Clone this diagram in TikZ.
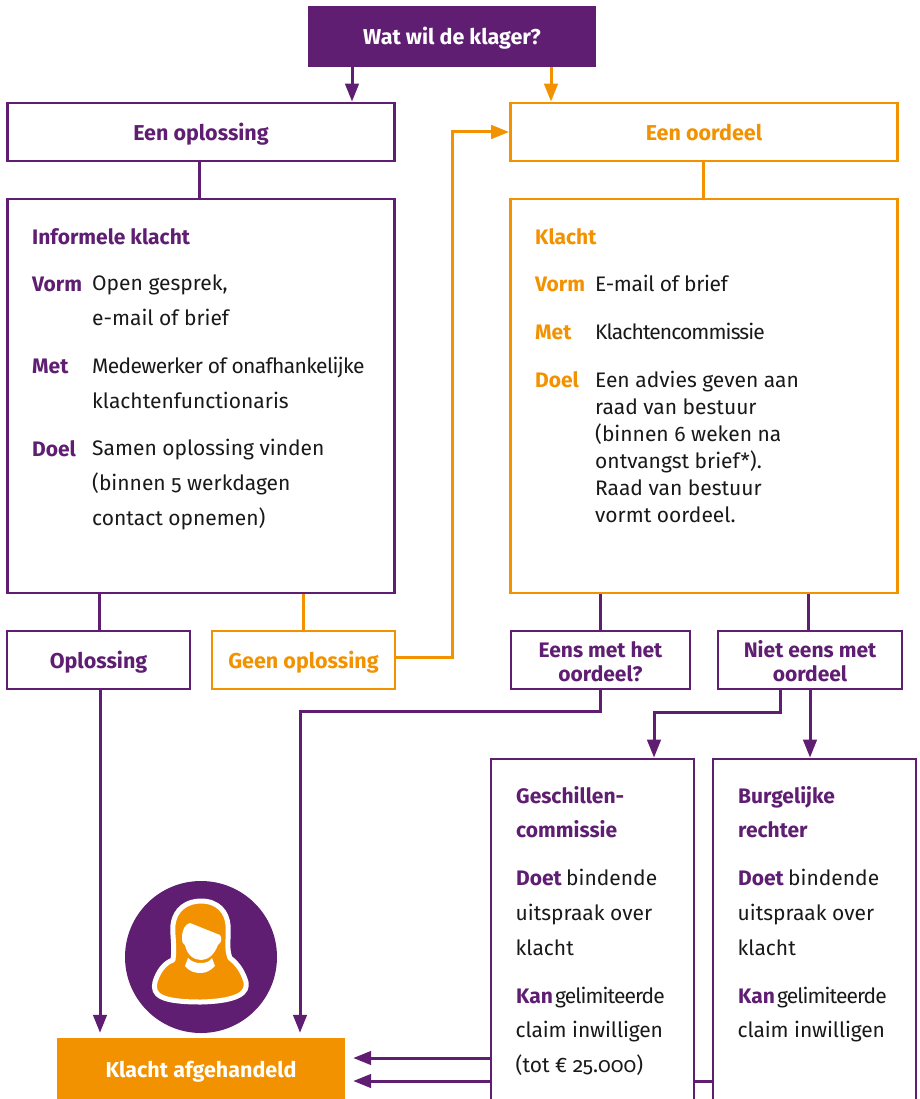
\documentclass[tikz,border=0pt]{standalone}
\usepackage{fontspec}
\setmainfont[Numbers=OldStyle]{Fira Sans}
\usetikzlibrary{arrows.meta, positioning}
\definecolor{klpaars}{RGB}{95, 30, 114}
\definecolor{kloranje}{RGB}{243, 146, 0}
\newcommand{\krap}[2]{{\addfontfeature{LetterSpace=#1}#2}}
\begin{document}
\begin{tikzpicture}[x=1pt, y=-1pt,
  box/.style={draw=klpaars, fill=white, line width=2.8pt, font=\fontsize{21.5}{24}\selectfont\bfseries,
              text=klpaars, align=center, inner sep=0pt},
  oranjebox/.style={box, draw=kloranje, text=kloranje},
  regel/.style={text height=17pt, text depth=0pt},
  tweeregels/.style={font=\fontsize{21}{24}\selectfont\bfseries, text depth=0pt, text height=43pt},
  vlak/.style={fill=#1, regel, font=\fontsize{21.5}{24}\selectfont\bfseries, text=white, align=center, inner sep=0pt},
  kop/.style={anchor=base west, inner sep=0pt, font=\fontsize{21}{24}\selectfont\bfseries, text=klpaars},
  tekst/.style={anchor=base west, inner sep=0pt, align=left, font=\fontsize{21}{34.6}\selectfont, text=black!90},
  lijn/.style={klpaars, line width=3pt},
  pijl/.style={lijn, -{Triangle[length=18pt, width=13.5pt]}},
]
\clip (0, 0) rectangle (919, 1099);

% Top of the chart
\node[vlak=klpaars, minimum width=288pt, minimum height=61pt] (vraag) at (452, 36.5) {Wat wil de klager?};
\node[box, regel, minimum width=387pt, minimum height=58pt] (oplossing) at (201, 132) {Een oplossing};
\node[oranjebox, regel, minimum width=387pt, minimum height=58pt] (oordeel) at (704, 132) {Een oordeel};

% Main boxes
\node[box, minimum width=387pt, minimum height=394pt] (informeel) at (201, 396) {};
\node[oranjebox, minimum width=387pt, minimum height=394pt] (klacht) at (704, 396) {};

\node[kop] (infokop) at (32, 244) {Informele klacht};
\node[kop] (infovorm) at (32, 291) {Vorm};
\node[tekst] (infovormtekst) at (92, 325) {Open gesprek,\\e-mail of brief};
\node[kop] (infomet) at (32, 373) {Met};
\node[tekst] (infomettekst) at (92, 408) {\krap{-3}{Medewerker of onafhankelijke}\\klachtenfunctionaris};
\node[kop] (infodoel) at (32, 456) {Doel};
\node[tekst] (infodoeltekst) at (92, 525) {Samen oplossing vinden\\(binnen 5 werkdagen\\contact opnemen)};

\node[kop, text=kloranje] (klachtkop) at (535, 244) {Klacht};
\node[kop, text=kloranje] (klachtvorm) at (535, 291) {Vorm};
\node[tekst] (klachtvormtekst) at (595, 291) {\krap{-1.4}{E-mail of brief}};
\node[kop, text=kloranje] (klachtmet) at (535, 339) {Met};
\node[tekst] (klachtmettekst) at (595, 339) {\krap{-4.2}{Klachtencommissie}};
\node[kop, text=kloranje] (klachtdoel) at (535, 387) {Doel};
\node[tekst, font=\fontsize{21}{27}\selectfont] (klachtdoeltekst) at (595, 522)
{Een advies geven aan\\raad van bestuur\\(binnen 6 weken na\\ontvangst brief*).\\Raad van bestuur\\vormt oordeel.};

% Outcomes
\node[box, regel, minimum width=183pt, minimum height=58pt] (opgelost) at (98.5, 660) {Oplossing};
\node[oranjebox, regel, minimum width=183pt, minimum height=58pt] (geen) at (303.5, 660) {Geen oplossing};
\node[box, tweeregels, minimum width=179pt, minimum height=58pt] (eens) at (600.5, 660) {Eens met het\\oordeel?};
\node[box, tweeregels, minimum width=184pt, minimum height=58pt] (nieteens) at (810, 660) {Niet eens met\\oordeel};

% Line behind the Geschillen box
\node[box, minimum width=203pt, minimum height=360pt] (burgerlijk) at (814.5, 939) {};
\coordinate (onderlijn) at (0, 1081);
\draw[lijn] (burgerlijk.west |- onderlijn) -- (694, 1081);

\node[box, minimum width=203pt, minimum height=360pt] (geschil) at (592.5, 939) {};

\node[kop] (geschilkop) at (516, 803) {Geschillen-};
\node[kop] (geschilkop2) at (516, 837) {commissie};
\node[kop] (geschildoet) at (516, 885) {Doet};
\node[tekst] (geschildoet2) at (566, 885) {bindende};
\node[tekst] (geschildoettekst) at (515.5, 955) {uitspraak over\\klacht};
\node[kop] (geschilkan) at (516, 1003) {Kan};
\node[tekst] (geschilkan2) at (555, 1003) {\krap{-4.4}{gelimiteerde}};
\node[tekst] (geschilkantekst) at (515.5, 1072) {\krap{-.5}{claim inwilligen}\\(tot € 25.000)};

\node[kop] (burgkop) at (738, 803) {Burgelijke};
\node[kop] (burgkop2) at (738, 837) {rechter};
\node[kop] (burgdoet) at (738, 885) {Doet};
\node[tekst] (burgdoet2) at (788, 885) {bindende};
\node[tekst] (burgdoettekst) at (737.5, 955) {uitspraak over\\klacht};
\node[kop] (burgkan) at (738, 1003) {Kan};
\node[tekst] (burgkan2) at (777, 1003) {\krap{-4.4}{gelimiteerde}};
\node[tekst] (burgkantekst) at (737.5, 1037) {\krap{-.5}{claim inwilligen}};

% End of the chart
\node[vlak=kloranje, minimum width=288pt, minimum height=61pt] (afgehandeld) at (201, 1068.5) {Klacht afgehandeld};

% Person
\fill[klpaars] (201, 957) circle (76);
\draw[fill=kloranje, draw=white, line width=5pt, line join=round]
  (173, 960) .. controls (175, 945) and (172, 935) .. (173, 925)
  .. controls (175, 908) and (188, 901) .. (201, 901)
  .. controls (218, 901) and (227, 912) .. (228, 925)
  .. controls (229, 938) and (226, 948) .. (230, 958)
  .. controls (238, 964) and (243, 972) .. (246, 982)
  .. controls (248, 992) and (240, 1001) .. (201, 1002)
  .. controls (160, 1002) and (152, 995) .. (155, 982)
  .. controls (158, 972) and (164, 963) .. (173, 960) -- cycle;
\fill[white] (182, 938) .. controls (182, 930) and (185, 924) .. (190, 923)
  -- (220, 935) .. controls (222, 938) and (222, 942) .. (218, 945)
  .. controls (214, 955) and (208, 960) .. (201, 960)
  .. controls (194, 960) and (187, 955) .. (185, 945)
  .. controls (182, 943) and (182, 941) .. (182, 938) -- cycle;
\fill[white] (188, 958) .. controls (192, 962) and (196, 963) .. (201, 963)
  .. controls (206, 963) and (209, 962) .. (212, 958)
  -- (215, 966) .. controls (210, 971) and (206, 973) .. (200, 973)
  .. controls (194, 973) and (189, 971) .. (185, 966) -- cycle;

% Connectors
\draw[pijl] (352, 0 |- vraag.south) -- (352, 0 |- oplossing.north);
\draw[pijl, kloranje] (551, 0 |- vraag.south) -- (551, 0 |- oordeel.north);
\draw[lijn] (199, 0 |- oplossing.south) -- (199, 0 |- informeel.north);
\draw[lijn, kloranje] (703, 0 |- oordeel.south) -- (703, 0 |- klacht.north);
\draw[lijn] (99.5, 0 |- informeel.south) -- (99.5, 0 |- opgelost.north);
\draw[lijn, kloranje] (303.5, 0 |- informeel.south) -- (303.5, 0 |- geen.north);
\draw[pijl, kloranje] (geen.east |- 0, 657) -- (452.5, 657) |- (oordeel.west);
\draw[lijn] (600.5, 0 |- klacht.south) -- (600.5, 0 |- eens.north);
\draw[lijn] (808, 0 |- klacht.south) -- (808, 0 |- nieteens.north);
\draw[pijl, shorten >=5pt] (100, 0 |- opgelost.south) -- (100, 0 |- afgehandeld.north);
\draw[pijl, shorten >=5pt] (eens.south) -- (600.5, 711) -| (300, 0 |- afgehandeld.north);
\draw[pijl] (780, 0 |- nieteens.south) -- (780, 712) -| (654, 0 |- geschil.north);
\draw[pijl] (810, 0 |- nieteens.south) -- (810, 0 |- burgerlijk.north);
\draw[pijl, shorten >=8pt] (geschil.west |- 0, 1058) -- (afgehandeld.east |- 0, 1058);
\draw[pijl, shorten >=8pt] (geschil.west |- onderlijn) -- (afgehandeld.east |- onderlijn);
\end{tikzpicture}
\end{document}
